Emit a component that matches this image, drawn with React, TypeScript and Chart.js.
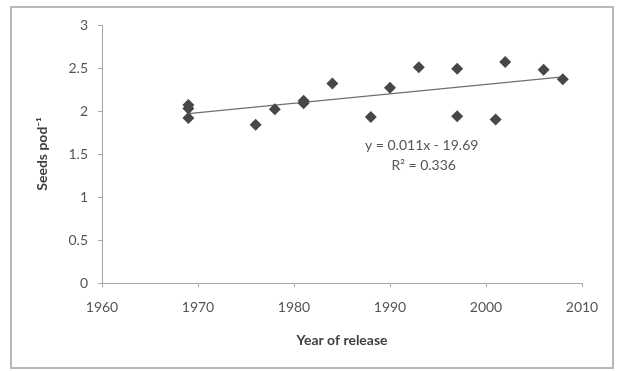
import React, { useEffect, useRef } from "react";
import { Chart, registerables } from "chart.js";

Chart.register(...registerables);

// Seeds per pod for cultivars by year of release
const releaseYears = [1969, 1969, 1969, 1976, 1978, 1981, 1981, 1984, 1988, 1990, 1993, 1997, 1997, 2001, 2002, 2006, 2008];
const seedsPerPod = [2.07, 2.03, 1.92, 1.84, 2.02, 2.12, 2.09, 2.32, 1.93, 2.27, 2.51, 2.49, 1.94, 1.90, 2.57, 2.48, 2.37];

// Linear fit reported on the chart
const trendSlope = 0.011;
const trendIntercept = -19.69;
const trendRSquared = 0.336;
const trendRange = [1969, 2008];

const xTicks = [1960, 1970, 1980, 1990, 2000, 2010];
const yTicks = [0, 0.5, 1, 1.5, 2, 2.5, 3];

const FONT = "Lato, 'Open Sans', sans-serif";
const TEXT = "#555555";
const AXIS = "#a6a6a6";

const frame = {
  id: "frame",
  beforeDraw(chart: any) {
    const { ctx, width, height } = chart;
    ctx.save();
    ctx.fillStyle = "#ffffff";
    ctx.fillRect(0, 0, width, height);
    ctx.strokeStyle = "#b8b8b8";
    ctx.lineWidth = 2;
    ctx.strokeRect(11, 7, 602, 361);
    ctx.restore();
  },
};

const equationLabel = {
  id: "equationLabel",
  afterDatasetsDraw(chart: any) {
    const { ctx } = chart;
    const xs = chart.scales.x;
    const ys = chart.scales.y;
    const cx = xs.getPixelForValue(1993.3);
    const sign = trendIntercept < 0 ? "-" : "+";
    const line1 = `y = ${trendSlope.toFixed(3)}x ${sign} ${Math.abs(trendIntercept).toFixed(2)}`;
    const line2 = `R² = ${trendRSquared.toFixed(3)}`;
    ctx.save();
    ctx.fillStyle = TEXT;
    ctx.font = `14px ${FONT}`;
    ctx.textAlign = "center";
    ctx.textBaseline = "middle";
    ctx.fillText(line1, cx, ys.getPixelForValue(1.6));
    ctx.fillText(line2, cx + 2, ys.getPixelForValue(1.37));
    ctx.restore();
  },
};

export default function App() {
  const ref = useRef<HTMLCanvasElement | null>(null);

  useEffect(() => {
    if (!ref.current) return;
    const points = releaseYears.map((yr, i) => ({ x: yr, y: seedsPerPod[i] }));
    const trend = trendRange.map((yr) => ({ x: yr, y: trendSlope * yr + trendIntercept }));

    const chart = new Chart(ref.current, {
      type: "scatter",
      data: {
        datasets: [
          {
            type: "line",
            label: "Linear fit",
            data: trend,
            borderColor: "#707070",
            borderWidth: 1.3,
            pointRadius: 0,
            fill: false,
            order: 2,
          } as any,
          {
            label: "Seeds pod⁻¹",
            data: points,
            pointStyle: "rectRot",
            pointRadius: 6,
            backgroundColor: "#474747",
            borderColor: "#474747",
            borderWidth: 0,
            order: 1,
          },
        ],
      },
      options: {
        responsive: false,
        animation: false,
        events: [],
        layout: { padding: { left: 0, top: 25, right: 36, bottom: 0 } },
        plugins: {
          legend: { display: false },
          tooltip: { enabled: false },
        },
        scales: {
          x: {
            type: "linear",
            min: xTicks[0],
            max: xTicks[xTicks.length - 1],
            afterBuildTicks: (s: any) => {
              s.ticks = xTicks.map((v) => ({ value: v }));
            },
            afterFit: (s: any) => {
              s.height = 88;
            },
            grid: { drawOnChartArea: false, drawTicks: true, tickLength: 4, color: AXIS },
            border: { color: AXIS, width: 1 },
            ticks: {
              color: TEXT,
              font: { family: FONT, size: 14 },
              padding: 12,
              maxRotation: 0,
              callback: (v: any) => String(v),
            },
            title: {
              display: true,
              text: "Year of release",
              color: "#404040",
              font: { family: FONT, size: 14, weight: "bold" },
              padding: { top: 0, bottom: 22 },
            },
          },
          y: {
            type: "linear",
            min: yTicks[0],
            max: yTicks[yTicks.length - 1],
            afterBuildTicks: (s: any) => {
              s.ticks = yTicks.map((v) => ({ value: v }));
            },
            afterFit: (s: any) => {
              s.width = 102;
            },
            grid: { drawOnChartArea: false, drawTicks: true, tickLength: 4, color: AXIS },
            border: { color: AXIS, width: 1 },
            ticks: {
              color: TEXT,
              font: { family: FONT, size: 14 },
              padding: 10,
              callback: (v: any) => String(v),
            },
            title: {
              display: true,
              text: "Seeds pod⁻¹",
              color: "#404040",
              font: { family: FONT, size: 14, weight: "bold" },
              padding: { top: 34, bottom: 0 },
            },
          },
        },
      },
      plugins: [frame, equationLabel],
    } as any);

    return () => chart.destroy();
  }, []);

  return (
    <div style={{ position: "absolute", left: 0, top: 0, width: 618, height: 371 }}>
      <canvas ref={ref} width={618} height={371} style={{ width: 618, height: 371, display: "block" }} />
    </div>
  );
}
